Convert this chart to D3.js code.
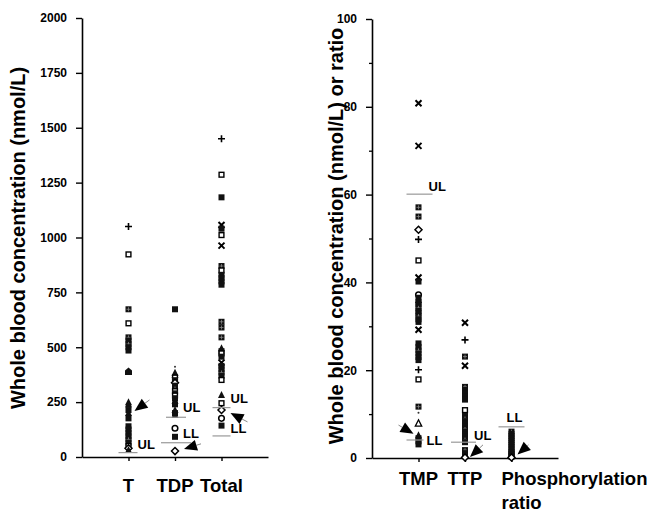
<!DOCTYPE html>
<html><head><meta charset="utf-8">
<script src="https://cdn.jsdelivr.net/npm/d3@7"></script>
<style>
body{margin:0;background:#fff;}
svg{display:block;font-family:"Liberation Sans",Arial,Helvetica,sans-serif;}
</style></head>
<body><svg id="c" width="647" height="515"></svg>
<script>
// ---------- data ----------
const leftCategories = ["T", "TDP", "Total"];
const leftTicks = [0, 250, 500, 750, 1000, 1250, 1500, 1750, 2000];
const tValues = [1050, 923, 673, 609, 545, 530, 515, 500, 485, 390, 250, 240, 214, 200, 176, 140, 125, 110, 95, 80, 65, 50, 40, 32];
const tSymbols = ["plus","sq","gsq","sq","gsq","fsq","gsq","fsq","fsq","house","tri","tri","fsq","tri","fsq","fsq","fsq","fsq","fsq","gsq","fsq","sq","dia","tri"];
const tdpValues = [673, 411, 384, 375, 362, 350, 338, 325, 312, 300, 290, 280, 268, 255, 240, 214, 200, 191, 131, 92, 27];
const tdpSymbols = ["fsq","dot","tri","tri","sq","fsq","dia","fsq","gsq","sq","fsq","sq","fsq","tri","fsq","tri","fsq","tri","circ","fsq","dia"];
const totalValues = [1450, 1286, 1183, 1057, 1040, 1011, 963, 870, 850, 830, 815, 800, 785, 616, 590, 545, 495, 482, 472, 457, 430, 415, 400, 385, 370, 351, 282, 245, 214, 176, 143];
const totalSymbols = ["plus","sq","fsq","cross","fsq","sq","cross","gsq","sq","fsq","fsq","fsq","fsq","gsq","gsq","gsq","tri","fsq","sq","fsq","cross","fsq","fsq","gsq","fsq","sq","tri","sq","dia","circ","fsq"];
const leftUL = [20, 181, 225];
const leftLL = [null, 65, 96];

const rightCategories = ["TMP", "TTP", "Phosphorylation ratio"];
const rightTicks = [0, 20, 40, 60, 80, 100];
const rightMinorTicks = [10, 30, 50, 70, 90];
const tmpValues = [80.8, 71.1, 57.1, 55.0, 52.0, 49.8, 45.0, 41.1, 40.2, 37.2, 36.5, 36.0, 35.5, 35.0, 34.2, 33.5, 33.0, 32.3, 31.6, 31.0, 29.2, 26.1, 25.3, 24.5, 23.8, 23.0, 22.3, 20.1, 17.9, 11.7, 10.3, 7.9, 5.2, 4.5, 3.8, 3.1];
const tmpSymbols = ["cross","cross","gsq","gsq","dia","plus","sq","cross","fsq","circ","fsq","tri","fsq","fsq","gsq","fsq","fsq","gsq","fsq","fsq","cross","fsq","fsq","gsq","fsq","fsq","fsq","plus","sq","gsq","dot","otri","tri","fsq","fsq","fsq"];
const ttpValues = [30.8, 26.9, 23.1, 21.0, 16.2, 15.5, 14.8, 14.0, 13.3, 10.9, 9.6, 9.0, 8.4, 7.8, 7.2, 6.6, 6.0, 5.4, 4.8, 4.2, 3.6, 1.8, 1.1, 0.5, 0.1];
const ttpSymbols = ["cross","plus","gsq","cross","gsq","fsq","fsq","fsq","fsq","sq","fsq","gsq","fsq","fsq","fsq","gsq","fsq","fsq","fsq","gsq","fsq","gsq","fsq","fsq","dia"];
const ratioValues = [6.0, 5.5, 5.0, 4.5, 4.0, 3.5, 3.0, 2.5, 2.0, 1.5, 1.2, 0.9, 0.6, 0.3, 0.1];
const ratioSymbols = ["gsq","fsq","fsq","fsq","fsq","fsq","fsq","fsq","fsq","fsq","fsq","fsq","fsq","fsq","dia"];
const rightUL = [60.1, 3.6, null];
const rightLL = [4.1, null, 7.1];

// ---------- layout ----------
const svg = d3.select("#c");
const yL = d3.scaleLinear().domain([0, 2000]).range([457, 18]);
const xL = d3.scalePoint().domain(leftCategories).range([82, 268]).padding(1);
const yR = d3.scaleLinear().domain([0, 100]).range([458, 19]);
const xR = d3.scalePoint().domain(rightCategories).range([372, 558]).padding(1);

function styleAxis(g) {
  g.attr("font-size", 12).attr("font-family", "'Liberation Sans',Arial,sans-serif").attr("font-weight", "bold");
  g.select(".domain").attr("stroke", "#000").attr("stroke-width", 1.6);
  g.selectAll(".tick line").attr("stroke", "#000").attr("stroke-width", 1.4);
  g.selectAll(".tick text").attr("fill", "#000");
}

// left axes
svg.append("g").attr("transform", "translate(82,0)")
  .call(d3.axisLeft(yL).tickValues(leftTicks).tickFormat(d3.format("d")).tickSize(6).tickPadding(9).tickSizeOuter(0))
  .call(styleAxis);
svg.append("g").attr("transform", "translate(0,457)")
  .call(d3.axisBottom(xL).tickSize(4).tickSizeOuter(0).tickFormat(""))
  .call(styleAxis);

// right axes
svg.append("g").attr("transform", "translate(372,0)")
  .call(d3.axisLeft(yR).tickValues(rightTicks).tickFormat(d3.format("d")).tickSize(6).tickPadding(9).tickSizeOuter(0))
  .call(styleAxis);
svg.append("g").attr("transform", "translate(372,0)")
  .call(d3.axisLeft(yR).tickValues(rightMinorTicks).tickSize(3).tickFormat(""))
  .call(g => { g.select(".domain").remove(); g.selectAll(".tick line").attr("stroke", "#000").attr("stroke-width", 1.3); });
svg.append("g").attr("transform", "translate(0,458)")
  .call(d3.axisBottom(xR).tickSize(4).tickSizeOuter(0).tickFormat(""))
  .call(styleAxis);

// axis titles
svg.append("text").attr("transform", "translate(25,238) rotate(-90)")
  .attr("text-anchor", "middle").attr("font-size", 20).attr("font-weight", "bold")
  .text("Whole blood concentration (nmol/L)");
svg.append("text").attr("transform", "translate(343,236) rotate(-90)")
  .attr("text-anchor", "middle").attr("font-size", 20).attr("font-weight", "bold")
  .text("Whole blood concentration (nmol/L) or ratio");

// category labels
leftCategories.forEach(c => {
  svg.append("text").attr("x", xL(c)).attr("y", 492).attr("text-anchor", "middle")
    .attr("font-size", 18.5).attr("font-weight", "bold").text(c);
});
["TMP", "TTP"].forEach(c => {
  svg.append("text").attr("x", xR(c)).attr("y", 485).attr("text-anchor", "middle")
    .attr("font-size", 18.5).attr("font-weight", "bold").text(c);
});
const prx = xR("Phosphorylation ratio") - 10;
const pr = svg.append("text").attr("font-size", 18.5).attr("font-weight", "bold");
pr.append("tspan").attr("x", prx).attr("y", 485).text("Phosphorylation");
pr.append("tspan").attr("x", prx).attr("y", 509).text("ratio");

// ---------- symbols ----------
function drawSymbol(g, cx, cy, type) {
  const s = 3;
  switch (type) {
    case "plus":
      g.append("path").attr("d", `M${cx-3.5},${cy}H${cx+3.5}M${cx},${cy-3.5}V${cy+3.5}`).attr("stroke", "#000").attr("stroke-width", 1.6); break;
    case "cross":
      g.append("path").attr("d", `M${cx-3},${cy-3}L${cx+3},${cy+3}M${cx+3},${cy-3}L${cx-3},${cy+3}`).attr("stroke", "#000").attr("stroke-width", 2); break;
    case "sq":
      g.append("rect").attr("x", cx-s+0.6).attr("y", cy-s+0.6).attr("width", 2*s-1.2).attr("height", 2*s-1.2)
        .attr("fill", "#fff").attr("stroke", "#000").attr("stroke-width", 1.4); break;
    case "fsq":
      g.append("rect").attr("x", cx-s).attr("y", cy-s).attr("width", 2*s).attr("height", 2*s).attr("fill", "#111"); break;
    case "gsq":
      g.append("rect").attr("x", cx-s).attr("y", cy-s).attr("width", 2*s).attr("height", 2*s).attr("fill", "#111");
      g.append("path").attr("d", `M${cx-2},${cy}H${cx+2}M${cx},${cy-2}V${cy+2}`).attr("stroke", "#888").attr("stroke-width", 0.8); break;
    case "dia":
      g.append("path").attr("d", `M${cx},${cy-3.5}L${cx+3.5},${cy}L${cx},${cy+3.5}L${cx-3.5},${cy}Z`)
        .attr("fill", "#fff").attr("stroke", "#000").attr("stroke-width", 1.5); break;
    case "circ":
      g.append("circle").attr("cx", cx).attr("cy", cy).attr("r", 2.8).attr("fill", "#fff").attr("stroke", "#000").attr("stroke-width", 1.5); break;
    case "tri":
      g.append("path").attr("d", `M${cx},${cy-4}L${cx+3.5},${cy+3}L${cx-3.5},${cy+3}Z`).attr("fill", "#111"); break;
    case "otri":
      g.append("path").attr("d", `M${cx},${cy-3.5}L${cx+3.2},${cy+2.8}L${cx-3.2},${cy+2.8}Z`).attr("fill", "#fff").attr("stroke", "#000").attr("stroke-width", 1.3); break;
    case "house":
      g.append("path").attr("d", `M${cx},${cy-4}L${cx+3.5},${cy-1}V${cy+3.5}H${cx-3.5}V${cy-1}Z`).attr("fill", "#111"); break;
    case "dot":
      g.append("circle").attr("cx", cx).attr("cy", cy).attr("r", 1).attr("fill", "#333"); break;
  }
}
const pts = svg.append("g");
function drawColumn(xs, ys, cat, vals, syms) {
  vals.forEach((v, i) => drawSymbol(pts, xs(cat), ys(v), syms[i]));
}
drawColumn(xL, yL, "T", tValues, tSymbols);
drawColumn(xL, yL, "TDP", tdpValues, tdpSymbols);
drawColumn(xL, yL, "Total", totalValues, totalSymbols);
drawColumn(xR, yR, "TMP", tmpValues, tmpSymbols);
drawColumn(xR, yR, "TTP", ttpValues, ttpSymbols);
drawColumn(xR, yR, "Phosphorylation ratio", ratioValues, ratioSymbols);

// ---------- reference limits ----------
const lim = svg.append("g");
function limitLine(xs, ys, cat, v, dx0, dx1, label, lx, ly) {
  if (v == null) return;
  lim.append("line").attr("x1", xs(cat) + dx0).attr("x2", xs(cat) + dx1)
    .attr("y1", ys(v)).attr("y2", ys(v)).attr("stroke", "#999").attr("stroke-width", 1.2);
  lim.append("text").attr("x", xs(cat) + lx).attr("y", ys(v) + ly)
    .attr("font-size", 13).attr("font-weight", "bold").text(label);
}
limitLine(xL, yL, "T", leftUL[0], -10, 9, "UL", 9, -4);
limitLine(xL, yL, "TDP", leftUL[1], -9, 11, "UL", 8, -5);
limitLine(xL, yL, "TDP", leftLL[1], -14, 16, "LL", 8, -5);
limitLine(xL, yL, "Total", leftUL[2], -9, 9, "UL", 9, -5);
limitLine(xL, yL, "Total", leftLL[2], -9, 9, "LL", 9, -3);
limitLine(xR, yR, "TMP", rightUL[0], -12, 14, "UL", 10, -3);
limitLine(xR, yR, "TMP", rightLL[0], -12, 5, "LL", 8, 5);
limitLine(xR, yR, "TTP", rightUL[1], -14, 11, "UL", 9, -2);
limitLine(xR, yR, "Phosphorylation ratio", rightLL[2], -13, 13, "LL", -5, -5);

// ---------- arrows ----------
function arrow(x0, y0, x1, y1) {
  const ang = Math.atan2(y1 - y0, x1 - x0), L = 13, Wd = 5.5;
  const bx = x1 - L * Math.cos(ang), by = y1 - L * Math.sin(ang);
  const nx = -Math.sin(ang) * Wd, ny = Math.cos(ang) * Wd;
  lim.append("line").attr("x1", x0).attr("y1", y0).attr("x2", bx).attr("y2", by).attr("stroke", "#888").attr("stroke-width", 1);
  lim.append("path").attr("d", `M${x1},${y1}L${bx+nx},${by+ny}L${bx-nx},${by-ny}Z`).attr("fill", "#000");
}
arrow(xL("T") + 21, yL(260), xL("T") + 6, yL(210));
arrow(xL("TDP") + 26, yL(60), xL("TDP") + 9, yL(36));
arrow(xL("Total") + 26, yL(160), xL("Total") + 9, yL(200));
arrow(xR("TMP") - 20, yR(7.5), xR("TMP") - 5, yR(5.5));
arrow(xR("TTP") + 18, yR(3), xR("TTP") + 5, yR(0.2));
arrow(xR("Phosphorylation ratio") + 17, yR(3), xR("Phosphorylation ratio") + 6, yR(0.8));
</script></body></html>
